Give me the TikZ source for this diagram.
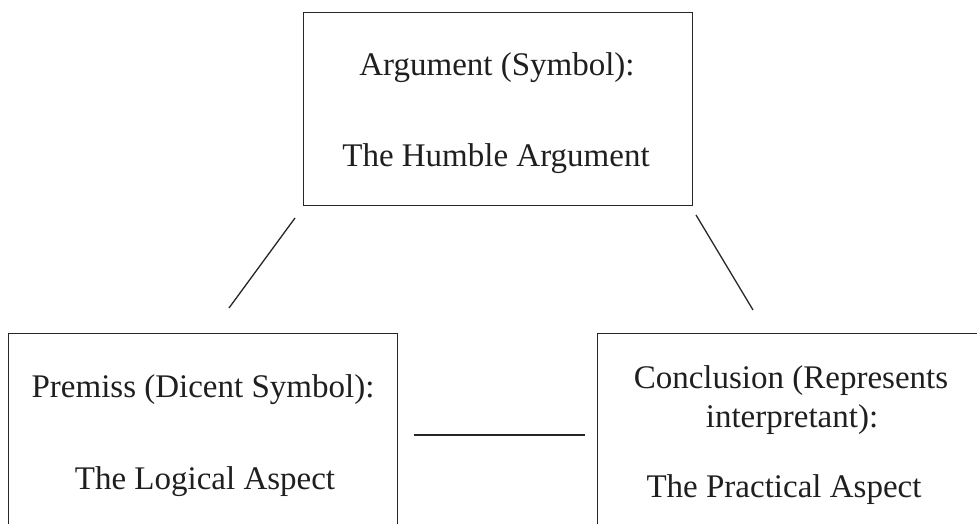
\documentclass[tikz,border=0pt]{standalone}
\usepackage{fontspec}
\setmainfont{Liberation Serif}
\begin{document}
\begin{tikzpicture}[x=1pt,y=-1pt,
  box/.style={draw=black!85,line width=1.3pt,rectangle,inner sep=0pt,anchor=north west},
  lbl/.style={anchor=base,inner sep=0pt,text=black!88,font=\fontsize{33}{39}\selectfont},
  conn/.style={draw=black!85,line width=1.3pt}]
\useasboundingbox (0,0) rectangle (977,524);
\begin{scope}
\clip (0,0) rectangle (977,524);
\node[box,minimum width=389pt,minimum height=193pt] (arg) at (303,12) {};
\node[box,minimum width=389pt,minimum height=260pt] (prem) at (8,333) {};
\node[box,minimum width=389pt,minimum height=260pt] (conc) at (597,333) {};
\end{scope}
\node[lbl] (argt1) at (497,76) {Argument (Symbol):};
\node[lbl] (argt2) at (496,167) {The Humble Argument};
\node[lbl] (premt1) at (203,397) {Premiss (Dicent Symbol):};
\node[lbl] (premt2) at (205,489) {The Logical Aspect};
\node[lbl] (conct1) at (791,388) {Conclusion (Represents};
\node[lbl] (conct2) at (792,427) {interpretant):};
\node[lbl] (conct3) at (784,497) {The Practical Aspect};
\coordinate (l1) at (295,218);
\coordinate (l2) at (229,308);
\coordinate (r1) at (696,215);
\coordinate (r2) at (753,310);
\coordinate (m1) at (414,435);
\coordinate (m2) at (585,435);
\draw[conn] (l1) -- (l2);
\draw[conn] (r1) -- (r2);
\draw[conn] (m1) -- (m2);
\end{tikzpicture}
\end{document}
